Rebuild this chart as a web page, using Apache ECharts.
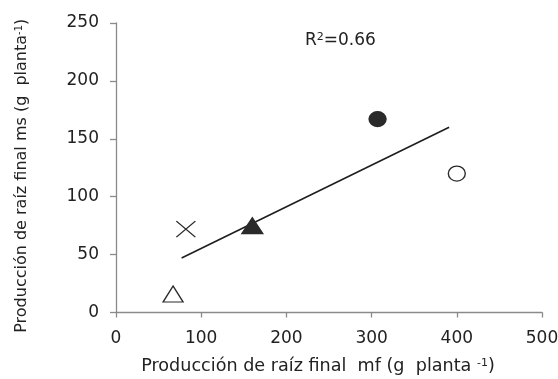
<!DOCTYPE html>
<html>
<head>
<meta charset="utf-8">
<script src="https://cdn.jsdelivr.net/npm/echarts@6/dist/echarts.min.js"></script>
<style>
  html, body { margin: 0; padding: 0; background: #fff; }
  #chart { width: 558px; height: 379px; }
</style>
</head>
<body>
<div id="chart"></div>
<script>
// Root production: fresh mass (mf) vs dry mass (ms), g per plant
var mfValues = [307, 400, 160, 82, 67];
var msValues = [167, 120, 75, 72, 16];

// Fitted line end points
var fitX = [77, 391];
var fitY = [47, 160];

var xTicks = [0, 100, 200, 300, 400, 500];
var yTicks = [0, 50, 100, 150, 200, 250];
var r2Text = '0.66';

var FONT = '"DejaVu Sans", "Liberation Sans", Arial, sans-serif';
var FS = 17;
var INK = '#222';
var AXIS = '#8a8a8a';

// marker look for each point, in the same order as the values
var markerStyles = [
  { symbol: 'circle', size: [17, 15], fill: '#2a2a2a', stroke: '#2a2a2a' },
  { symbol: 'circle', size: [17, 15], fill: '#fff', stroke: '#2a2a2a' },
  { symbol: 'triangle', size: [21, 16], fill: '#2a2a2a', stroke: '#2a2a2a' },
  { symbol: 'path://M0,0L20,17M20,0L0,17', size: [19, 16], fill: 'none', stroke: '#2a2a2a' },
  { symbol: 'triangle', size: [20, 16], fill: '#fff', stroke: '#2a2a2a' }
];

var pointSeries = mfValues.map(function (x, i) {
  var m = markerStyles[i];
  return {
    type: 'scatter',
    data: [[x, msValues[i]]],
    symbol: m.symbol,
    symbolSize: m.size,
    itemStyle: { color: m.fill, borderColor: m.stroke, borderWidth: 1.3, opacity: 1 },
    z: 3
  };
});

var chart = echarts.init(document.getElementById('chart'), null, { renderer: 'canvas' });

function supStyle(size) {
  return { fontSize: size, lineHeight: 9, verticalAlign: 'top', color: INK, fontFamily: FONT };
}

chart.setOption({
  animation: false,
  backgroundColor: '#fff',
  textStyle: { fontFamily: FONT, color: INK },
  grid: { left: 116, right: 16, top: 23, bottom: 66.5, containLabel: false, outerBoundsMode: 'none' },
  title: {
    text: 'R{sup|2}=' + r2Text,
    left: 305,
    top: 32,
    padding: 0,
    textStyle: {
      fontSize: FS, fontWeight: 'normal', color: INK, fontFamily: FONT, lineHeight: 17,
      rich: { sup: supStyle(11) }
    }
  },
  xAxis: {
    type: 'value',
    min: xTicks[0],
    max: xTicks[xTicks.length - 1],
    interval: xTicks[1] - xTicks[0],
    axisLine: { show: true, lineStyle: { color: AXIS, width: 1.3 } },
    axisTick: { show: true, inside: false, length: 5, lineStyle: { color: AXIS, width: 1.3 } },
    axisLabel: { fontSize: FS, color: INK, margin: 18, fontFamily: FONT },
    splitLine: { show: false },
    name: 'Producción de raíz final  mf (g  planta {sup|-1})',
    nameLocation: 'middle',
    nameGap: 45,
    nameTextStyle: {
      fontSize: 17.6, color: INK, fontFamily: FONT, lineHeight: 17,
      padding: [0, 22, 0, 0],
      rich: { sup: supStyle(11) }
    }
  },
  yAxis: {
    type: 'value',
    min: yTicks[0],
    max: yTicks[yTicks.length - 1],
    interval: yTicks[1] - yTicks[0],
    axisLine: { show: true, lineStyle: { color: AXIS, width: 1.3 } },
    axisTick: { show: true, inside: false, length: 6, lineStyle: { color: AXIS, width: 1.3 } },
    axisLabel: { fontSize: FS, color: INK, margin: 17, fontFamily: FONT },
    splitLine: { show: false },
    name: 'Producción de raíz final ms (g  planta{sup|-1})',
    nameLocation: 'middle',
    nameGap: 86,
    nameTextStyle: {
      fontSize: 16, color: INK, fontFamily: FONT, lineHeight: 16,
      padding: [0, 16, 0, 0],
      rich: { sup: supStyle(10) }
    }
  },
  series: [{
    type: 'line',
    data: [[fitX[0], fitY[0]], [fitX[1], fitY[1]]],
    showSymbol: false,
    symbol: 'none',
    lineStyle: { color: '#1e1e1e', width: 1.6 },
    z: 2
  }].concat(pointSeries)
});
</script>
</body>
</html>
